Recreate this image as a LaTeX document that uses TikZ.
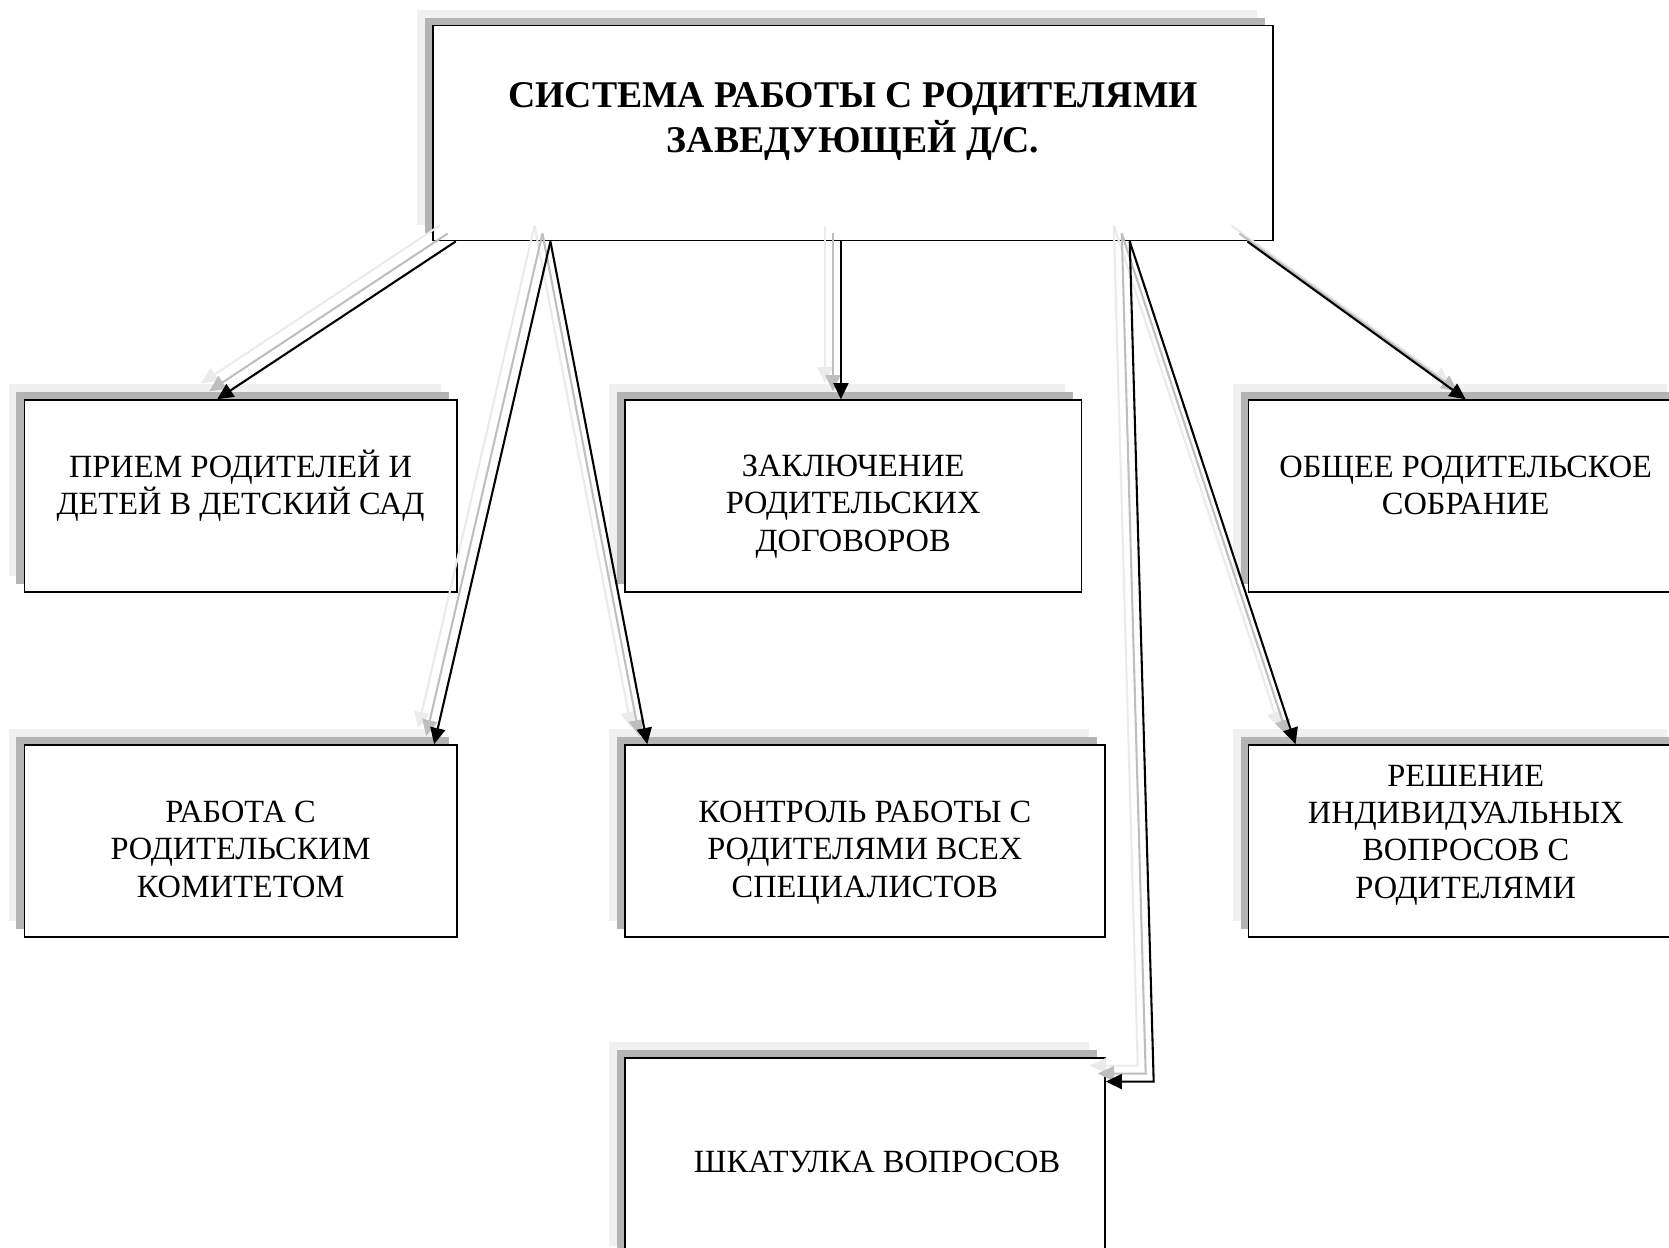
\documentclass[tikz,border=0pt]{standalone}
\usepackage{fontspec}
\setmainfont{Liberation Serif}
\usetikzlibrary{shadows,calc,arrows.meta}
\definecolor{boxshD}{HTML}{B4B4B4}
\definecolor{boxshL}{HTML}{F0F0F0}
\definecolor{arrshD}{HTML}{BEBEBE}
\definecolor{arrshL}{HTML}{EBEBEB}
\def\U{0.46pt}
\tikzset{
  box/.style={draw=black, line width=0.8pt, fill=white, inner sep=0pt,
    general shadow={fill=boxshL, shadow xshift=-6.9pt, shadow yshift=6.9pt},
    general shadow={fill=boxshD, shadow xshift=-3.45pt, shadow yshift=3.45pt}},
  txt/.style={align=center, font=\fontsize{14}{16.1}\selectfont, inner sep=0pt},
  ttl/.style={align=center, font=\fontsize{16.3}{19.4}\selectfont\bfseries, inner sep=0pt},
  conn/.style={line width=0.9pt, -{Triangle[length=7pt,width=6.5pt]}}
}
\newcommand\myconns{%
  \draw[conn] ($(top.south west)+(22,0)$) -- ($(b2.north)+(-22,0)$);
  \draw[conn] ($(top.south west)+(111,0)$) -- ($(b5.north east)+(-22,0)$);
  \draw[conn] ($(top.south west)+(111,0)$) -- ($(b6.north west)+(22,0)$);
  \draw[conn] ($(top.south)+(-11.5,0)$) -- ($(b3.north)+(-11.5,0)$);
  \draw[conn] ($(top.south east)+(-135.5,0)$) -- ($(b7.north west)+(45,0)$);
  \draw[conn] ($(top.south east)+(-135.5,0)$) -- ($(b8.north east)+(45,23)$) -- ($(b8.north east)+(0,23)$);
  \draw[conn] ($(top.south east)+(-25,0)$) -- (b4.north);
}
\begin{document}
\begin{tikzpicture}[x=0.46pt, y=-0.46pt]
\useasboundingbox (0,0) rectangle (1568,1172);
\clip (0,0) rectangle (1568,1172);

\node[box, minimum width=789*\U, minimum height=202*\U,
  label={[ttl, name=topt, yshift=10.5*\U]center:СИСТЕМА РАБОТЫ С РОДИТЕЛЯМИ\\ЗАВЕДУЮЩЕЙ Д/С.}]
  (top) at (801.5,125) {};

\node[box, minimum width=406*\U, minimum height=180*\U,
  label={[txt, name=b2t, yshift=10*\U]center:ПРИЕМ РОДИТЕЛЕЙ И\\ДЕТЕЙ В ДЕТСКИЙ САД}]
  (b2) at (226,466) {};
\node[box, minimum width=429*\U, minimum height=180*\U,
  label={[txt, name=b3t, yshift=-10*\U]center:ЗАКЛЮЧЕНИЕ\\РОДИТЕЛЬСКИХ\\ДОГОВОРОВ}]
  (b3) at (801.5,466) {};
\node[box, minimum width=408*\U, minimum height=180*\U,
  label={[txt, name=b4t, yshift=10*\U]center:ОБЩЕЕ РОДИТЕЛЬСКОЕ\\СОБРАНИЕ}]
  (b4) at (1377,466) {};

\node[box, minimum width=406*\U, minimum height=180*\U,
  label={[txt, name=b5t, yshift=-8*\U]center:РАБОТА С\\РОДИТЕЛЬСКИМ\\КОМИТЕТОМ}]
  (b5) at (226,790) {};
\node[box, minimum width=451*\U, minimum height=180*\U,
  label={[txt, name=b6t, yshift=-11*\U]center:КОНТРОЛЬ РАБОТЫ С\\РОДИТЕЛЯМИ ВСЕХ\\СПЕЦИАЛИСТОВ}]
  (b6) at (812.5,790) {};
\node[box, minimum width=408*\U, minimum height=180*\U,
  label={[txt, name=b7t, yshift=5.5*\U]center:РЕШЕНИЕ\\ИНДИВИДУАЛЬНЫХ\\ВОПРОСОВ С\\РОДИТЕЛЯМИ}]
  (b7) at (1377,790) {};

\node[box, minimum width=451*\U, minimum height=192*\U,
  label={[txt, name=b8t, xshift=11.5*\U, yshift=-2*\U]center:ШКАТУЛКА ВОПРОСОВ}]
  (b8) at (812.5,1090) {};

\begin{scope}[transform canvas={xshift=-6.9pt, yshift=6.9pt}, color=arrshL]
  \myconns
\end{scope}
\begin{scope}[transform canvas={xshift=-3.45pt, yshift=3.45pt}, color=arrshD]
  \myconns
\end{scope}
\begin{scope}[color=black]
  \myconns
\end{scope}
\end{tikzpicture}
\end{document}
